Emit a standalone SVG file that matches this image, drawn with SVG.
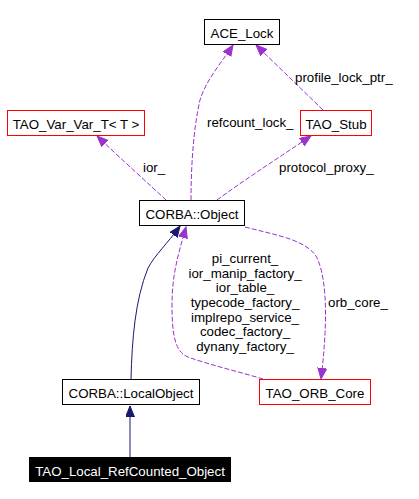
<svg xmlns="http://www.w3.org/2000/svg" width="419" height="499" viewBox="0 0 419 499">
<style>
text{font-family:"Liberation Sans",Arial,sans-serif;font-size:13.3px;fill:#000}
.n{text-anchor:middle}
.box{fill:#fff;stroke:#000;stroke-width:1}
.red{fill:#fff;stroke:#ff0000;stroke-width:1}
.use{fill:none;stroke:#9a32cd;stroke-width:1;stroke-dasharray:5,2}
.inh{fill:none;stroke:#191970;stroke-width:1}
</style>
<defs>
<marker id="ap" markerUnits="userSpaceOnUse" markerWidth="12" markerHeight="10" refX="11" refY="4.5" orient="auto">
<path d="M0,0 L11,4.5 L0,9 z" fill="#9a32cd" stroke="#9a32cd"/>
</marker>
<marker id="an" markerUnits="userSpaceOnUse" markerWidth="12" markerHeight="10" refX="11" refY="4.5" orient="auto">
<path d="M0,0 L11,4.5 L0,9 z" fill="#191970" stroke="#191970"/>
</marker>
</defs>
<rect width="419" height="499" fill="#fff"/>
<g id="connectors">
<path class="use" d="M191,200 C191,170 193,130 200,100 C206,80 222,62 233,45" marker-end="url(#ap)"/>
<path class="use" d="M323,110 L256,45" marker-end="url(#ap)"/>
<path class="use" d="M166,200 C150,185 120,158 97,136" marker-end="url(#ap)"/>
<path class="use" d="M217,200 C240,183 275,160 311,136" marker-end="url(#ap)"/>
<path class="use" d="M245,227 C275,235 310,240 318,260 C328,285 327,330 321,379" marker-end="url(#ap)"/>
<path class="use" d="M263,379 C240,372 210,365 188,357 C175,352 172,335 172,305 C172,275 178,255 186,227" marker-end="url(#ap)"/>
<path class="inh" d="M131,379 C132,340 135,300 148,268 C155,255 167,244 180,226" marker-end="url(#an)"/>
<path class="inh" d="M130,457 L130,406" marker-end="url(#an)"/>
<text x="207" y="127">refcount_lock_</text>
<text x="295" y="82">profile_lock_ptr_</text>
<text x="143" y="172">ior_</text>
<text x="279" y="172">protocol_proxy_</text>
<text x="328" y="307">orb_core_</text>
<text class="n" x="245" y="263">pi_current_</text>
<text class="n" x="245" y="278">ior_manip_factory_</text>
<text class="n" x="245" y="292">ior_table_</text>
<text class="n" x="245" y="307">typecode_factory_</text>
<text class="n" x="245" y="322">implrepo_service_</text>
<text class="n" x="245" y="336">codec_factory_</text>
<text class="n" x="245" y="351">dynany_factory_</text>
</g>
<g id="ACE_Lock">
<rect class="box" x="204.5" y="19.5" width="75" height="25"/>
<text class="n" x="242" y="38">ACE_Lock</text>
</g>
<g id="TAO_Var_Var_T">
<rect class="red" x="7.5" y="110.5" width="137" height="25"/>
<text class="n" x="76" y="129">TAO_Var_Var_T&lt; T &gt;</text>
</g>
<g id="TAO_Stub">
<rect class="red" x="300.5" y="110.5" width="71" height="25"/>
<text class="n" x="336" y="129">TAO_Stub</text>
</g>
<g id="CORBA_Object">
<rect class="box" x="139.5" y="200.5" width="105" height="25"/>
<text class="n" x="192" y="219">CORBA::Object</text>
</g>
<g id="CORBA_LocalObject">
<rect class="box" x="62.5" y="379.5" width="137" height="25"/>
<text class="n" x="131" y="398">CORBA::LocalObject</text>
</g>
<g id="TAO_ORB_Core">
<rect class="red" x="259.5" y="379.5" width="111" height="25"/>
<text class="n" x="315" y="398">TAO_ORB_Core</text>
</g>
<g id="TAO_Local_RefCounted_Object">
<rect x="29" y="457" width="202" height="25" fill="#000"/>
<text class="n" x="130" y="476" style="fill:#fff">TAO_Local_RefCounted_Object</text>
</g>
</svg>
